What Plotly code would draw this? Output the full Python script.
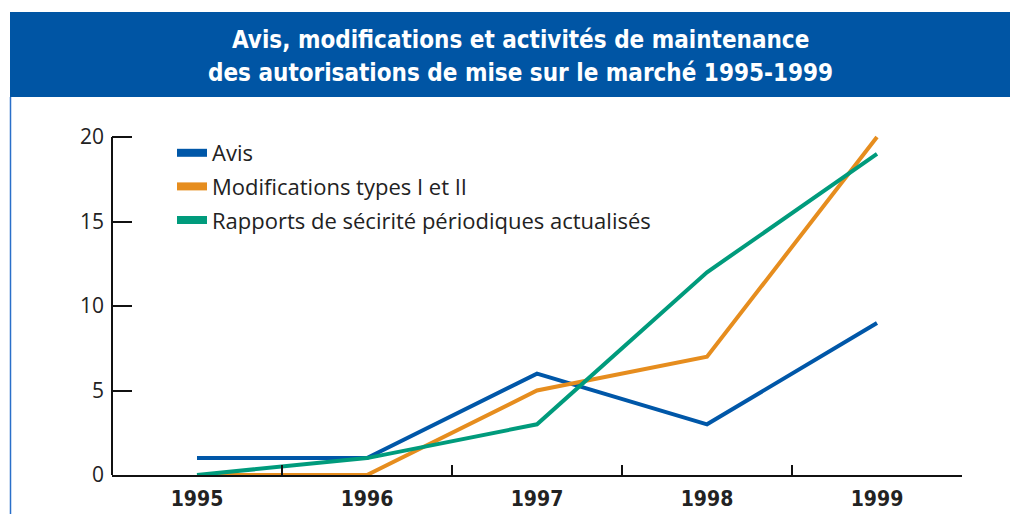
import plotly.graph_objects as go

years = ["1995", "1996", "1997", "1998", "1999"]
avis = [1, 1, 6, 3, 9]
modifications = [0, 0, 5, 7, 20]
rapports = [0, 1, 3, 12, 19]

series_names = ["Avis", "Modifications types I et II",
                "Rapports de sécirité périodiques actualisés"]
series_values = [avis, modifications, rapports]
colors = ["#0057A8", "#E68D1E", "#009B7C"]

title_lines = ["Avis, modifications et activités de maintenance",
               "des autorisations de mise sur le marché 1995-1999"]

y_ticks = [0, 5, 10, 15, 20]

fig = go.Figure()
for name, vals, col in zip(series_names, series_values, colors):
    fig.add_trace(go.Scatter(x=years, y=vals, mode="lines", name=name,
                             line=dict(color=col, width=4),
                             showlegend=False, hoverinfo="skip"))
for i, (name, col) in enumerate(zip(series_names, colors)):
    fig.add_trace(go.Scatter(x=[None], y=[None], mode="lines", name=name,
                             line=dict(color=col, width=8),
                             legendgroup="g%d" % i, showlegend=True))

# page has an 8px body margin: figure coords = screen coords - 8
OFF = 8
W, H = 1018 - OFF, 514 - OFF
L, R, T, B = 112 - OFF, 56, 132 - OFF, 39
ph = H - T - B
pw = W - L - R

def py(p):
    return (H - B - (p - OFF)) / ph

def px(p):
    return ((p - OFF) - L) / pw

shapes = [
    dict(type="rect", xref="paper", yref="paper", x0=px(10), x1=px(1040),
         y0=py(97), y1=py(12), fillcolor="#0055A4", line=dict(width=0), layer="below"),
    dict(type="line", xref="paper", yref="paper", x0=px(10.5), x1=px(10.5),
         y0=py(97), y1=py(540), line=dict(color="#2A6FC9", width=1.5)),
    dict(type="line", xref="paper", yref="y", x0=0, x1=0, y0=0, y1=20,
         line=dict(color="#111111", width=2)),
]

annotations = [
    dict(text="<b>%s</b>" % title_lines[0], xref="paper", yref="paper",
         x=px(520), y=py(40), showarrow=False, xanchor="center", yanchor="middle",
         font=dict(family="DejaVu Sans Condensed", size=24, color="white")),
    dict(text="<b>%s</b>" % title_lines[1], xref="paper", yref="paper",
         x=px(520), y=py(73), showarrow=False, xanchor="center", yanchor="middle",
         font=dict(family="DejaVu Sans Condensed", size=24, color="white")),
]

fig.update_layout(
    width=W, height=H,
    margin=dict(l=L, r=R, t=T, b=B, pad=0, autoexpand=False),
    paper_bgcolor="white", plot_bgcolor="white",
    shapes=shapes, annotations=annotations,
    showlegend=True,
    legend=dict(x=px(172), y=py(132), xanchor="left", yanchor="top",
                bgcolor="rgba(0,0,0,0)", tracegroupgap=2,
                font=dict(family="Open Sans", size=22, color="#222222")),
    xaxis=dict(type="category", range=[-0.5, 4.5], showline=True,
               linecolor="#111111", linewidth=2, ticks="inside",
               tickson="boundaries", ticklen=10, tickwidth=2, tickcolor="#111111",
               showgrid=False, zeroline=False, ticklabelstandoff=4,
               automargin=False,
               tickfont=dict(family="DejaVu Sans Condensed", size=21, color="#222222"),
               tickprefix="<b>", ticksuffix="</b>"),
    yaxis=dict(range=[0, 20.3], tickvals=y_ticks, ticks="inside", ticklen=20,
               tickwidth=2, tickcolor="#111111", showline=False, showgrid=False,
               zeroline=False, ticklabelstandoff=7, automargin=False,
               tickfont=dict(family="Open Sans", size=21, color="#222222")),
)

fig.write_html("out.html")
